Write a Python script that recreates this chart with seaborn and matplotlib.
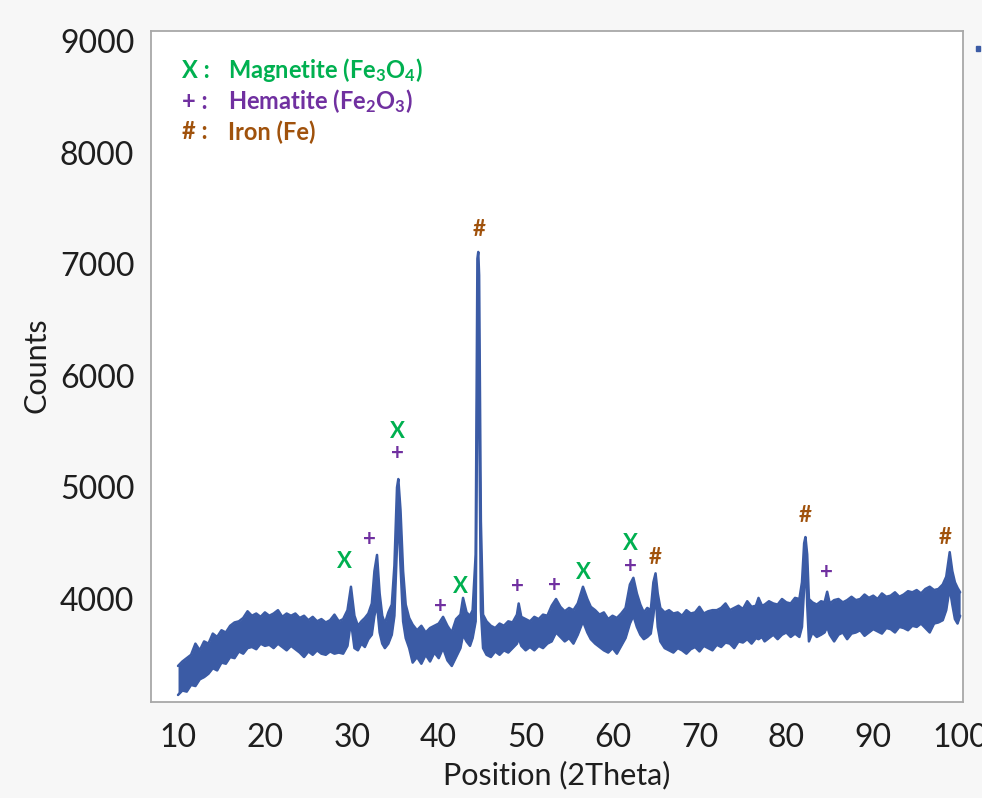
import matplotlib
matplotlib.use("Agg")
import matplotlib.pyplot as plt
import seaborn as sns
import pandas as pd
from matplotlib import font_manager
from matplotlib.patches import Rectangle

# ---------------- data ----------------
# position of the scan (2 theta) and the lower / upper edge of the noisy trace
two_theta = [10.0, 10.5, 11.0, 11.5, 12.0, 12.5, 13.0, 13.5, 14.0, 14.5,
             15.0, 15.5, 16.0, 16.5, 17.0, 17.5, 18.0, 18.5, 19.0, 19.5,
             20.0, 20.5, 21.0, 21.5, 22.0, 22.5, 23.0, 23.5, 24.0, 24.5,
             25.0, 25.5, 26.0, 26.5, 27.0, 27.5, 28.0, 28.5, 29.0, 29.5,
             29.9, 30.3, 30.7, 31.1, 31.5, 31.9, 32.3, 32.6, 32.9, 33.2,
             33.5, 33.8, 34.2, 34.6, 34.9, 35.2, 35.35, 35.6, 35.9, 36.2,
             36.6, 37.0, 37.5, 38.0, 38.5, 39.0, 39.5, 40.0, 40.5, 41.0,
             41.5, 42.0, 42.5, 42.8, 43.2, 43.6, 43.9, 44.25, 44.45, 44.55,
             44.65, 44.85, 45.1, 45.5, 46.0, 46.5, 47.0, 47.5, 48.0, 48.5,
             49.0, 49.2, 49.5, 50.0, 50.5, 51.0, 51.5, 52.0, 52.5, 53.0,
             53.5, 54.0, 54.5, 55.0, 55.5, 56.0, 56.6, 57.1, 57.5, 58.0,
             58.5, 59.0, 59.5, 60.0, 60.5, 61.0, 61.5, 62.0, 62.4, 62.8,
             63.2, 63.6, 64.0, 64.4, 64.7, 64.95, 65.2, 65.5, 66.0, 66.5,
             67.0, 67.5, 68.0, 68.5, 69.0, 69.5, 70.0, 70.5, 71.0, 71.5,
             72.0, 72.5, 73.0, 73.5, 74.0, 74.5, 75.0, 75.5, 76.0, 76.5,
             76.8, 77.2, 77.5, 78.0, 78.5, 79.0, 79.5, 80.0, 80.5, 81.0,
             81.5, 81.8, 82.05, 82.2, 82.4, 82.6, 83.0, 83.5, 84.0, 84.4,
             84.7, 85.0, 85.5, 86.0, 86.5, 87.0, 87.5, 88.0, 88.5, 89.0,
             89.5, 90.0, 90.5, 91.0, 91.5, 92.0, 92.5, 93.0, 93.5, 94.0,
             94.5, 95.0, 95.5, 96.0, 96.5, 97.0, 97.5, 98.0, 98.4, 98.8,
             99.1, 99.4, 99.7, 100.0]
counts_low = [3140, 3180, 3170, 3230, 3220, 3280, 3300, 3330, 3380, 3360,
              3430, 3420, 3480, 3470, 3530, 3510, 3560, 3570, 3550, 3600,
              3580, 3590, 3560, 3600, 3570, 3540, 3580, 3550, 3520, 3480,
              3530, 3500, 3540, 3510, 3500, 3530, 3510, 3520, 3510, 3580,
              3800, 3560, 3540, 3600, 3570, 3640, 3680, 3850, 3950, 3700,
              3600, 3560, 3600, 3680, 3850, 4500, 4800, 4300, 3800, 3650,
              3560, 3430, 3480, 3420, 3500, 3440, 3520, 3470, 3560, 3450,
              3400, 3480, 3560, 3680, 3620, 3580, 3650, 3800, 6000, 6900,
              5800, 3900, 3560, 3500, 3480, 3530, 3500, 3540, 3520, 3560,
              3600, 3650, 3580, 3540, 3570, 3540, 3580, 3560, 3600, 3620,
              3700, 3660, 3620, 3650, 3600, 3680, 3800, 3700, 3640, 3600,
              3570, 3540, 3520, 3560, 3510, 3580, 3650, 3780, 3850, 3750,
              3680, 3640, 3660, 3690, 3850, 4050, 3750, 3620, 3560, 3540,
              3520, 3560, 3540, 3510, 3550, 3570, 3530, 3580, 3560, 3540,
              3590, 3570, 3610, 3600, 3560, 3620, 3610, 3640, 3600, 3650,
              3640, 3660, 3620, 3650, 3680, 3640, 3680, 3700, 3660, 3690,
              3660, 3750, 4100, 4450, 3950, 3620, 3700, 3660, 3680, 3700,
              3750, 3680, 3620, 3680, 3700, 3640, 3690, 3700, 3720, 3670,
              3700, 3730, 3710, 3690, 3740, 3730, 3700, 3750, 3740, 3720,
              3760, 3750, 3780, 3740, 3700, 3780, 3790, 3810, 3900, 4100,
              3950, 3820, 3780, 3850]
counts_high = [3400, 3440, 3470, 3500, 3600, 3540, 3620, 3600, 3690, 3660,
               3720, 3700, 3760, 3790, 3800, 3830, 3890, 3850, 3870, 3840,
               3880, 3850, 3870, 3900, 3840, 3870, 3850, 3870, 3830, 3850,
               3810, 3840, 3800, 3820, 3790, 3810, 3860, 3800, 3820, 3900,
               4110, 3850, 3760, 3800, 3830, 3870, 3960, 4250, 4395, 4050,
               3850, 3780, 3880, 3950, 4300, 5000, 5075, 4800, 4250, 3950,
               3830, 3770, 3720, 3760, 3700, 3740, 3760, 3780, 3840, 3760,
               3700, 3820, 3860, 4010, 3880, 3850, 3900, 4400, 7050, 7110,
               6900, 4700, 3860, 3800, 3760, 3740, 3780, 3760, 3800, 3790,
               3860, 3960, 3840, 3820, 3800, 3840, 3820, 3860, 3850, 3940,
               4000, 3930, 3890, 3920, 3900, 3960, 4110, 4000, 3930, 3900,
               3860, 3880, 3820, 3850, 3830, 3870, 3920, 4130, 4190, 4050,
               3950, 3880, 3920, 3900, 4150, 4230, 4050, 3920, 3880, 3900,
               3870, 3880, 3850, 3900, 3870, 3880, 3930, 3870, 3890, 3900,
               3900, 3920, 3960, 3900, 3920, 3940, 3910, 3980, 3930, 3940,
               4010, 3940, 3950, 3980, 3960, 3950, 4000, 3970, 3960, 4010,
               4000, 4150, 4500, 4555, 4400, 4000, 3970, 3950, 3980, 3970,
               4065, 3960, 3990, 4000, 3970, 3990, 4020, 3990, 4000, 4040,
               4010, 4030, 4000, 4050, 4020, 4030, 4060, 4020, 4040, 4070,
               4060, 4080, 4050, 4090, 4110, 4080, 4090, 4130, 4200, 4420,
               4250, 4150, 4100, 4060]

ann_text = ["X", "+", "X", "+", "+", "X", "#", "+", "+", "X", "X", "+", "#",
            "#", "+", "#"]
ann_x = [29.2, 32.0, 35.3, 35.3, 40.15, 42.45, 44.64, 49.0, 53.3, 56.7, 62.1,
         62.1, 64.9, 82.15, 84.6, 98.3]
ann_y = [4340, 4529, 5505, 5300, 3930, 4110, 7315, 4110, 4125, 4240, 4500,
         4295, 4375, 4750, 4240, 4555]

legend_symbols = ["X :", "+ :", "# :"]
legend_labels = ["Magnetite (Fe$_3$O$_4$)", "Hematite (Fe$_2$O$_3$)", "Iron (Fe)"]

phase_colors = {"X": "#00B050", "+": "#7030A0", "#": "#A0520C"}
line_color = "#3B5BA5"

# ---------------- style ----------------
sns.set_theme(style="white")
plt.rcParams['font.family'] = ['Lato', 'DejaVu Sans']
plt.rcParams['mathtext.fontset'] = 'custom'
plt.rcParams['mathtext.rm'] = 'Lato:bold'
plt.rcParams['mathtext.it'] = 'Lato:bold'
plt.rcParams['mathtext.bf'] = 'Lato:bold'
plt.rcParams['mathtext.default'] = 'rm'

installed = {f.name for f in font_manager.fontManager.ttflist}
narrow = 'Liberation Sans Narrow' if 'Liberation Sans Narrow' in installed else 'Lato'

fig = plt.figure(figsize=(9.82, 7.98), dpi=100, facecolor='#f7f7f7')
ax = fig.add_axes([151 / 982, 1 - 702 / 798, (963 - 151) / 982, (702 - 31) / 798])
ax.set_facecolor('white')

df = pd.DataFrame({'Position': two_theta, 'low': counts_low, 'high': counts_high})
ax.fill_between(df['Position'], df['low'], df['high'], color=line_color, lw=0)
sns.lineplot(data=df, x='Position', y='low', color=line_color, lw=1.8, ax=ax)
sns.lineplot(data=df, x='Position', y='high', color=line_color, lw=1.8, ax=ax)

ax.set_xlim(6.89, 100.33)
ax.set_ylim(3077, 9090)
ax.set_xticks([10, 20, 30, 40, 50, 60, 70, 80, 90, 100])
ax.set_yticks([4000, 5000, 6000, 7000, 8000, 9000])

for s in ax.spines.values():
    s.set_color('#a8a8a8')
    s.set_linewidth(1.3)

ax.tick_params(axis='both', which='major', direction='out', length=8, width=1.1,
               color='#a8a8a8', labelcolor='#1e1e1e')
ax.tick_params(axis='y', labelsize=23, pad=4)
ax.tick_params(axis='x', labelsize=23, pad=7)
for lab in ax.get_xticklabels():
    lab.set_family([narrow, 'DejaVu Sans'])

ax.set_xlabel('Position (2Theta)', fontsize=22, color='#1e1e1e',
              family=[narrow, 'DejaVu Sans'])
ax.set_ylabel('Counts', fontsize=22, color='#1e1e1e')
ax.xaxis.set_label_coords(0.499, -0.088)
ax.yaxis.set_label_coords(-0.124, 0.502)

for t, x, y in zip(ann_text, ann_x, ann_y):
    ax.text(x, y, t, ha='center', va='center', fontsize=16, fontweight='bold',
            color=phase_colors[t])

legend_y = [8740, 8462, 8185]
for sym, lab, y in zip(legend_symbols, legend_labels, legend_y):
    c = phase_colors[sym[0]]
    ax.text(10.46, y, sym, ha='left', va='center', fontsize=17, fontweight='bold', color=c)
    ax.text(15.75, y, lab, ha='left', va='center', fontsize=17, fontweight='bold', color=c)

# small blue mark outside the plot at the top right
fig.patches.append(Rectangle((976 / 982, 1 - 51 / 798), 4 / 982, 5 / 798,
                             transform=fig.transFigure, color=line_color))

fig.savefig('out.png', dpi=100, facecolor=fig.get_facecolor())
